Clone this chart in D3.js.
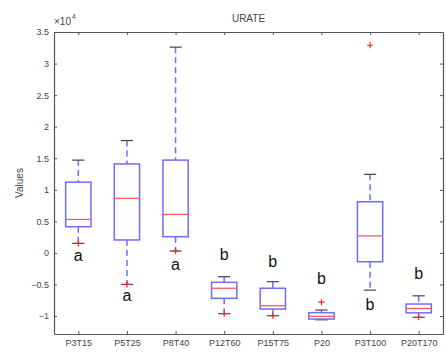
<!DOCTYPE html>
<html><head><meta charset="utf-8">
<script src="https://cdn.jsdelivr.net/npm/d3@7"></script>
<style>body{margin:0;background:#fff}svg{display:block}text{font-family:"Liberation Sans",Arial,sans-serif}</style>
</head><body>
<script>
const categories = ["P3T15","P5T25","P8T40","P12T60","P15T75","P20","P3T100","P20T170"];
const upperWhisker = [1.47, 1.78, 3.26, -0.377, -0.456, -0.905, 1.245, -0.68];
const q3 = [1.12, 1.41, 1.47, -0.466, -0.56, -0.947, 0.81, -0.81];
const medians = [0.53, 0.865, 0.61, -0.56, -0.837, -1.005, 0.27, -0.88];
const q1 = [0.415, 0.205, 0.257, -0.72, -0.89, -1.048, -0.14, -0.95];
const lowerWhisker = [0.15, -0.50, 0.03, -0.963, -0.995, -1.06, -0.59, -1.02];
const outliers = [[0.15], [-0.50], [0.03], [-0.963], [-0.995], [-0.78], [3.29], [-1.02]];
const letters = ["a","a","a","b","b","b","b","b"];
const letterY = [-0.035, -0.68, -0.19, -0.033, -0.14, -0.40, -0.815, -0.334];
const yTicks = [3.5, 3, 2.5, 2, 1.5, 1, 0.5, 0, -0.5, -1];
const title = "URATE";
const yLabel = "Values";

const W = 446, H = 355;
const m = {left: 54, right: 3, top: 32, bottom: 21};
const svg = d3.select("body").append("svg").attr("width", W).attr("height", H);
const x = d3.scaleLinear().domain([0.5, categories.length + 0.5]).range([m.left, W - m.right]);
const y = d3.scaleLinear().domain([-1.285, 3.5]).range([H - m.bottom, m.top]);
const bw = 0.52, cw = 0.25;

const axisCol = "#555", textCol = "#444";
const gB = svg.append("g").attr("transform", `translate(0,${H - m.bottom})`)
  .call(d3.axisBottom(x).tickValues(d3.range(1, categories.length + 1)).tickFormat((d) => categories[d - 1]).tickSizeInner(-3).tickSizeOuter(0).tickPadding(6));
const gT = svg.append("g").attr("transform", `translate(0,${m.top})`)
  .call(d3.axisTop(x).tickValues(d3.range(1, categories.length + 1)).tickFormat("").tickSizeInner(-3).tickSizeOuter(0));
const gL = svg.append("g").attr("transform", `translate(${m.left},0)`)
  .call(d3.axisLeft(y).tickValues(yTicks).tickFormat(d3.format("")).tickSizeInner(-3).tickSizeOuter(0).tickPadding(5));
const gR = svg.append("g").attr("transform", `translate(${W - m.right},0)`)
  .call(d3.axisRight(y).tickValues(yTicks).tickFormat("").tickSizeInner(-3).tickSizeOuter(0));
[gB, gT, gL, gR].forEach(g => {
  g.select(".domain").attr("stroke", axisCol).attr("stroke-width", 1.2);
  g.selectAll(".tick line").attr("stroke", axisCol);
  g.selectAll("text").attr("fill", textCol).attr("font-size", 9).attr("font-family", '"Liberation Sans",Arial,sans-serif');
});

svg.append("text").attr("x", m.left).attr("y", 25).attr("fill", textCol).attr("font-size", 10).text("\u00d710");
svg.append("text").attr("x", m.left + 18).attr("y", 19).attr("fill", textCol).attr("font-size", 6.5).text("4");
svg.append("text").attr("x", (m.left + W - m.right) / 2).attr("y", 22).attr("text-anchor", "middle").attr("fill", textCol).attr("font-size", 10).text(title);
svg.append("text").attr("transform", `translate(23,${(m.top + H - m.bottom) / 2}) rotate(-90)`).attr("text-anchor", "middle").attr("fill", textCol).attr("font-size", 10).text(yLabel);

const blue = "#6d6dff", red = "#ff5a5a";
const g = svg.append("g");
categories.forEach((c, i) => {
  const cx = x(i + 1);
  g.append("line").attr("x1", cx).attr("x2", cx).attr("y1", y(upperWhisker[i])).attr("y2", y(q3[i]))
    .attr("stroke", blue).attr("stroke-width", 1.5).attr("stroke-dasharray", "6,4");
  g.append("line").attr("x1", cx).attr("x2", cx).attr("y1", y(q1[i])).attr("y2", y(lowerWhisker[i]))
    .attr("stroke", blue).attr("stroke-width", 1.5).attr("stroke-dasharray", "6,4");
  [upperWhisker[i], lowerWhisker[i]].forEach(v => {
    g.append("line").attr("x1", x(i + 1 - cw / 2)).attr("x2", x(i + 1 + cw / 2)).attr("y1", y(v)).attr("y2", y(v))
      .attr("stroke", "#444").attr("stroke-width", 1.2);
  });
  g.append("rect").attr("x", x(i + 1 - bw / 2)).attr("width", x(i + 1 + bw / 2) - x(i + 1 - bw / 2))
    .attr("y", y(q3[i])).attr("height", y(q1[i]) - y(q3[i]))
    .attr("fill", "none").attr("stroke", blue).attr("stroke-width", 1.5);
  g.append("line").attr("x1", x(i + 1 - bw / 2)).attr("x2", x(i + 1 + bw / 2)).attr("y1", y(medians[i])).attr("y2", y(medians[i]))
    .attr("stroke", red).attr("stroke-width", 1.3);
  outliers[i].forEach(v => {
    const oy = y(v);
    const s = 3;
    g.append("path").attr("d", `M${cx - s},${oy}H${cx + s}M${cx},${oy - s}V${oy + s}`)
      .attr("stroke", "#ff2020").attr("stroke-width", 1.2).attr("fill", "none");
  });
  g.append("text").attr("x", cx).attr("y", y(letterY[i])).attr("text-anchor", "middle").attr("dominant-baseline", "central")
    .attr("font-size", 16).attr("fill", "#111").text(letters[i]);
});
</script>
</body></html>
